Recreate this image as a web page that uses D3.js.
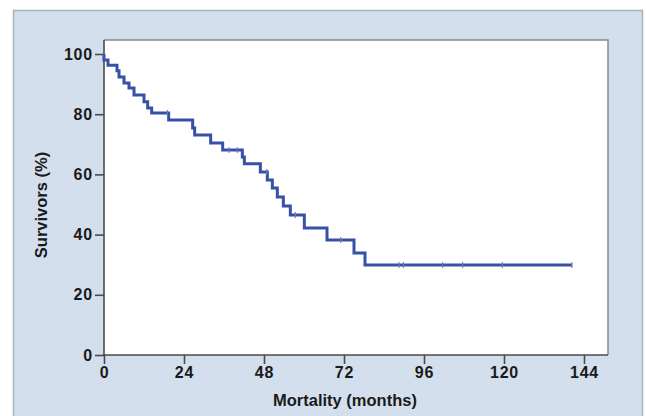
<!DOCTYPE html>
<html><head><meta charset="utf-8">
<script src="https://cdn.jsdelivr.net/npm/d3@7"></script>
<style>body{margin:0;background:#fff;}svg{display:block;}</style>
</head><body><svg id="c" width="646" height="416"></svg>
<script>
// event times (months) and survival (%) after each drop
const times = [0, 1.2, 3.9, 4.5, 6.0, 7.5, 9.0, 12.0, 13.1, 14.3, 19.4, 26.6, 27.2, 32.0, 35.6, 41.5, 42.1, 46.9, 49.0, 50.5, 52.0, 53.8, 55.9, 60.1, 66.9, 75.0, 78.3];
const survival = [98.0, 96.3, 94.4, 92.4, 90.4, 88.7, 86.4, 84.1, 82.1, 80.4, 78.1, 75.4, 73.1, 70.4, 68.1, 65.8, 63.5, 60.8, 58.1, 55.5, 52.5, 49.5, 46.5, 42.2, 38.2, 33.9, 29.9];
const endTime = 140.4;
const censorTimes = [19.0, 37.5, 40.0, 48.8, 57.4, 71.0, 88.5, 89.8, 101.6, 107.6, 119.5, 140.4];
const xTicks = [0, 24, 48, 72, 96, 120, 144];
const yTicks = [0, 20, 40, 60, 80, 100];

const svg = d3.select("#c");
// outer panel
svg.append("rect").attr("x", 13.5).attr("y", 10.5).attr("width", 629).attr("height", 410)
  .attr("fill", "#d4dfee").attr("stroke", "#a9b2bd").attr("stroke-width", 1.5);

const L = 104, R = 608, T = 40, B = 355;
const x = d3.scaleLinear().domain([0, 144]).range([104, 584]);
const y = d3.scaleLinear().domain([0, 100]).range([355, 54]);

svg.append("rect").attr("x", L).attr("y", T).attr("width", R - L).attr("height", B - T).attr("fill", "#fff");
// frame top/right
svg.append("path").attr("d", `M${L},${T}H${R}V${B}`).attr("fill", "none").attr("stroke", "#8a8a8a").attr("stroke-width", 1.5);

const font = "Arial, 'Liberation Sans', sans-serif";
const yAxis = svg.append("g").attr("transform", `translate(${L},0)`)
  .call(d3.axisLeft(y).tickValues(yTicks).tickSize(9).tickPadding(2).tickSizeOuter(0));
const xAxis = svg.append("g").attr("transform", `translate(0,${B})`)
  .call(d3.axisBottom(x).tickValues(xTicks).tickSize(9).tickPadding(3).tickSizeOuter(0));
[yAxis, xAxis].forEach(a => {
  a.select(".domain").remove();
  a.selectAll("line").attr("stroke", "#4a4a4a").attr("stroke-width", 1.6);
  a.selectAll("text").attr("font-family", font).attr("font-weight", "bold").attr("font-size", 16).attr("letter-spacing", 0.8).attr("fill", "#1a1a1a");
});
// axis lines
svg.append("line").attr("x1", L).attr("x2", L).attr("y1", T).attr("y2", B + 1).attr("stroke", "#4a4a4a").attr("stroke-width", 1.6);
svg.append("line").attr("x1", L - 1).attr("x2", R).attr("y1", B).attr("y2", B).attr("stroke", "#4a4a4a").attr("stroke-width", 1.6);

// KM step line
const pts = [[0, 100]];
times.forEach((t, i) => { pts.push([t, i === 0 ? 100 : survival[i - 1]]); pts.push([t, survival[i]]); });
pts.push([endTime, survival[survival.length - 1]]);
const line = d3.line().x(d => x(d[0])).y(d => y(d[1]));
svg.append("path").attr("d", line(pts)).attr("fill", "none").attr("stroke", "#3651a6").attr("stroke-width", 3).attr("stroke-linejoin", "miter");

// censor marks
function survAt(t) { let s = 100; times.forEach((tt, i) => { if (tt <= t) s = survival[i]; }); return s; }
svg.selectAll(".cens").data(censorTimes).join("line")
  .attr("x1", d => x(d)).attr("x2", d => x(d))
  .attr("y1", d => y(survAt(d)) - 3).attr("y2", d => y(survAt(d)) + 3)
  .attr("stroke", "#6a7dbd").attr("stroke-width", 1.1);

svg.append("text").attr("x", 345).attr("y", 406).attr("text-anchor", "middle")
  .attr("font-family", font).attr("font-weight", "bold").attr("font-size", 16.5).attr("fill", "#1a1a1a").text("Mortality (months)");
svg.append("text").attr("transform", "translate(47,205) rotate(-90)").attr("text-anchor", "middle")
  .attr("font-family", font).attr("font-weight", "bold").attr("font-size", 16.5).attr("fill", "#1a1a1a").text("Survivors (%)");
</script></body></html>
